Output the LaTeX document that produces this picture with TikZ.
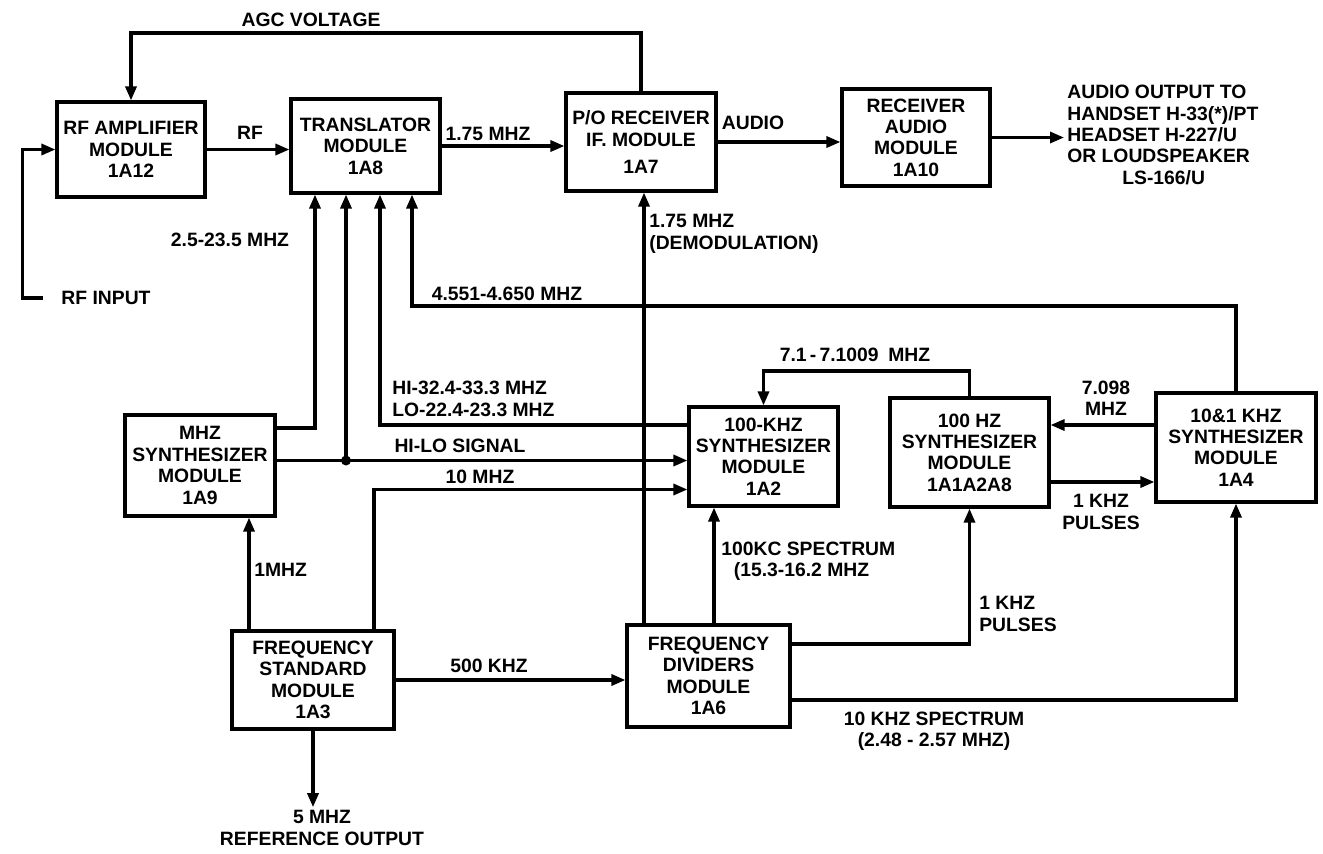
\documentclass[tikz,border=0pt]{standalone}
\usepackage{fontspec}
\setmainfont{Liberation Sans}
\usetikzlibrary{arrows.meta}

\begin{document}
\begin{tikzpicture}[
    x=0.02cm, y=-0.02cm, % one unit = one pixel of the sketch, y downwards
    font=\fontsize{11}{12.2}\selectfont\bfseries,
    line width=1.8pt,
    module/.style={draw, align=center, inner sep=0pt}, % Module box
    sig/.style={-{Triangle[length=0.28cm, width=0.22cm]}}, % Signal line
    lbl/.style={inner sep=1pt, align=center}, % Line label
    dot/.style={circle, fill, inner sep=0pt, minimum size=0.2cm} % Junction
]
    \useasboundingbox (0,0) rectangle (1323,853);

    % --- MODULES ---
    \node[module, minimum width=2.96cm, minimum height=1.9cm] (rfamp) at (131,149.5) {RF AMPLIFIER\\MODULE\\1A12};
    \node[module, minimum width=2.98cm, minimum height=1.88cm] (trans) at (365.5,146) {TRANSLATOR\\MODULE\\1A8};
    \node[module, minimum width=3.0cm, minimum height=1.96cm] (recv) at (641,142) {P/O RECEIVER\\IF. MODULE\\[3pt]1A7};
    \node[module, minimum width=2.96cm, minimum height=1.94cm] (audio) at (916,137.5) {RECEIVER\\AUDIO\\MODULE\\1A10};
    \node[module, minimum width=3.0cm, minimum height=2.02cm] (mhz) at (200,465.5) {MHZ\\SYNTHESIZER\\MODULE\\1A9};
    \node[module, minimum width=2.98cm, minimum height=1.98cm] (khz100) at (763.5,456.5) {100-KHZ\\SYNTHESIZER\\MODULE\\1A2};
    \node[module, minimum width=3.18cm, minimum height=2.18cm] (hz100) at (969.5,452.5) {100 HZ\\SYNTHESIZER\\MODULE\\1A1A2A8};
    \node[module, minimum width=3.2cm, minimum height=2.18cm] (k1081) at (1236,447.5) {10\&1 KHZ\\SYNTHESIZER\\MODULE\\1A4};
    \node[module, minimum width=3.24cm, minimum height=1.96cm] (fstd) at (313,680) {FREQUENCY\\STANDARD\\MODULE\\1A3};
    \node[module, minimum width=3.26cm, minimum height=2.04cm] (fdiv) at (708.5,676) {FREQUENCY\\DIVIDERS\\MODULE\\1A6};

    % --- FREE ENDS ---
    \node[lbl] (rfin) at (106,298) {RF INPUT};
    \node[lbl, anchor=west, align=left] (out) at (1064,135) {AUDIO OUTPUT TO\\HANDSET H-33(*)/PT\\HEADSET H-227/U\\OR LOUDSPEAKER\\\hspace*{1.1cm}LS-166/U};
    \node[lbl] (ref) at (322,828) {5 MHZ\\REFERENCE OUTPUT};

    % Guide coordinates
    \coordinate (agcy) at (0,33);
    \coordinate (y4551) at (0,306);
    \coordinate (y71) at (0,371);
    \coordinate (tin1) at (315,0);   % Translator inputs
    \coordinate (tin2) at (346,0);
    \coordinate (tin3) at (380,0);
    \coordinate (tin4) at (412,0);
    \coordinate (hilo) at ([yshift=1mm]mhz.east);
    \coordinate (lo) at ([yshift=6.3mm]khz100.west);
    \coordinate (m10) at ([xshift=12.2mm]fstd.north);
    \coordinate (k10) at ([yshift=-6.6mm]khz100.west);
    \coordinate (m1) at ([xshift=-12.8mm]fstd.north);
    \coordinate (dem) at ([xshift=-12.9mm]fdiv.north);
    \coordinate (kc) at ([xshift=1.1mm]fdiv.north);
    \coordinate (p1kl) at ([yshift=6.4mm]fdiv.east);
    \coordinate (s10k) at ([yshift=-4.8mm]fdiv.east);
    \coordinate (l7098) at ([yshift=4.5mm]k1081.west);
    \coordinate (p1k) at ([yshift=-5.9mm]hz100.east);

    % --- RECEIVE CHAIN ---
    \draw[sig] (recv.north) -- (recv.north |- agcy) -| (rfamp.north);
    \draw[sig] ([xshift=-3mm]rfin.west) -- ++(-21,0) |- (rfamp.west);
    \draw[sig] (rfamp.east) -- (rfamp.east -| trans.west);
    \draw[sig] (trans.east) -- (trans.east -| recv.west);
    \draw[sig] (recv.east) -- (recv.east -| audio.west);
    \draw[sig] (audio.east) -- (audio.east -| out.west);

    % --- INJECTION SIGNALS ---
    \draw[sig] ([yshift=7.5mm]mhz.east) -| (trans.south -| tin1);
    \node[dot] (jn) at (hilo -| tin2) {};
    \draw[sig] (hilo) -- (hilo -| khz100.west);
    \draw[sig] (jn.center) -- (trans.south -| tin2);
    \draw[sig] (lo) -| (trans.south -| tin3);
    \draw[sig] (k1081.north) |- (y4551 -| tin4) -- (trans.south -| tin4);
    \draw[sig] (dem) -- (dem |- recv.south);

    % --- SYNTHESIZERS ---
    \draw[sig] (hz100.north) -- (hz100.north |- y71) -| (khz100.north);
    \draw[sig] (l7098) -- (l7098 -| hz100.east);
    \draw[sig] (p1k) -- (p1k -| k1081.west);
    \draw[sig] (m10) |- (k10);
    \draw[sig] (m1) -- (m1 |- mhz.south);
    \draw[sig] (fstd.east) -- (fstd.east -| fdiv.west);
    \draw[sig] (fstd.south) -- (fstd.south |- ref.north);
    \draw[sig] (kc) -- (kc |- khz100.south);
    \draw[sig] (p1kl) -| (hz100.south);
    \draw[sig] (s10k) -| (k1081.south);

    % --- LABELS ---
    \node[lbl] (lagc) at (311,20) {AGC VOLTAGE};
    \node[lbl] (lrf) at (250,133) {RF};
    \node[lbl] (lif) at (488,134) {1.75 MHZ};
    \node[lbl] (laud) at (753,123) {AUDIO};
    \node[lbl] (l25) at (230,240) {2.5-23.5 MHZ};
    \node[lbl, anchor=west, align=left] (ldem) at (646,234) {1.75 MHZ\\(DEMODULATION)};
    \node[lbl] (l4551) at (507,294) {4.551-4.650 MHZ};
    \node[lbl, anchor=west, align=left] (lhilo) at (389,399) {HI-32.4-33.3 MHZ\\LO-22.4-23.3 MHZ};
    \node[lbl] (lsig) at (460,446) {HI-LO SIGNAL};
    \node[lbl] (l10m) at (480,477) {10 MHZ};
    \node[lbl] (l71) at (855,355) {7.1\,-\,7.1009\enspace MHZ};
    \node[lbl] (l7098) at (1106,398) {7.098\\MHZ};
    \node[lbl] (lpul) at (1101,512) {1 KHZ\\PULSES};
    \node[lbl, anchor=west] (l1m) at (251,570) {1MHZ};
    \node[lbl] (l500) at (489,666) {500 KHZ};
    \node[lbl, anchor=west, align=left] (lkc) at (718,561) {100KC SPECTRUM\\\hspace*{0.25cm}(15.3-16.2 MHZ};
    \node[lbl, anchor=west, align=left] (lpul2) at (976,614) {1 KHZ\\PULSES};
    \node[lbl] (l10k) at (934,731) {10 KHZ SPECTRUM\\(2.48 - 2.57 MHZ)};

\end{tikzpicture}
\end{document}
